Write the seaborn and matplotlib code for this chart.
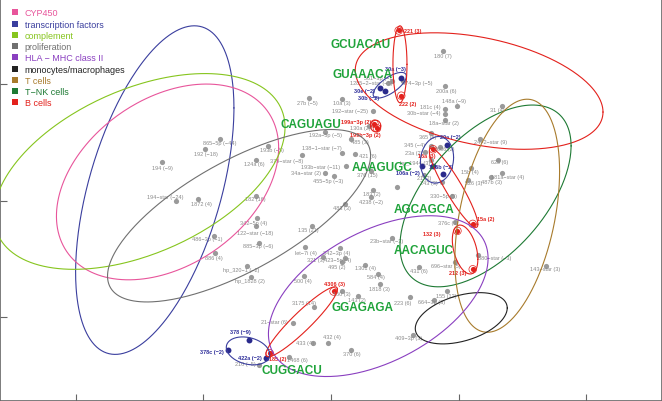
import numpy as np
import pandas as pd
import matplotlib
matplotlib.use("Agg")
import matplotlib.pyplot as plt
from matplotlib.lines import Line2D
import seaborn as sns

# miRNAs without a cell-type call (gray)
gray_names = ["27b (−5)", "10a (3)", "192−star (−25)", "130a (2)", "192a−5p (−5)", "865−5p (−44)",
              "192 (−18)", "193b (−5)", "138−1−star (−7)", "124a (6)", "379−star (−8)", "193b−star (−11)",
              "34a−star (2)", "455−5p (−3)", "194 (−9)", "194−star (−24)", "1872 (4)", "182 (16)",
              "342−5p (4)", "122−star (−18)", "486−3p (−1)", "885−3p (−6)", "886 (4)", "hp_320−1 (−2)",
              "hp_1828 (2)", "135 (21)", "let−7i (4)", "342−3p (4)", "321 (3)", "423−5p (4)", "495 (2)",
              "500 (4)", "3175 (14)", "21−star (6)", "433 (4)", "432 (4)", "1468 (6)", "210 (−5)",
              "370 (6)", "143 (2)", "150 (3)", "1818 (3)", "584 (4)", "1301 (4)", "223 (6)", "664−3p (3)",
              "155 (12)", "409−3p (3)", "431 (6)", "696−star (5)", "880−star (−3)", "23b−star (−3)",
              "376c (3)", "4238 (−2)", "183 (2)", "483 (3)", "376 (15)", "421 (6)", "485 (3)", "345 (−4)",
              "23a (2)", "365 (6)", "24−2−star (9)", "625 (6)", "181a−star (4)", "487b (3)", "526 (3)",
              "15b (4)", "330−5p (5)", "243 (3)", "hp_1944 (3)", "2006 (2)", "21 (2)", "180 (7)",
              "200a (6)", "148a (−9)", "181c (4)", "30b−star (−4)", "18a−star (2)", "31 (4)",
              "561−3p (−1)", "1285−2−star (−5)", "374−3p (−5)", "143−star (3)", ""]
gray_x = [-0.17, 0.09, 0.33, 0.30, -0.05, -0.87, -0.99, -0.49, 0.09, -0.59, -0.23, 0.12,
          -0.05, 0.02, -1.32, -1.21, -1.04, -0.59, -0.58, -0.59, -0.92, -0.56, -0.91, -0.66,
          -0.63, -0.15, -0.20, 0.07, -0.06, 0.11, 0.09, -0.21, -0.13, -0.30, -0.14, -0.02,
          -0.33, -0.56, 0.16, 0.21, 0.09, 0.38, 0.37, 0.27, 0.62, 0.81, 0.91, 0.64, 0.69,
          0.97, 1.15, 0.48, 0.97, 0.31, 0.33, 0.11, 0.31, 0.19, 0.16, 0.78, 0.74, 0.78, 1.17,
          1.31, 1.34, 1.25, 1.07, 1.10, 0.95, 0.87, 0.78, 0.85, 0.73, 0.88, 0.89, 0.99, 0.89,
          0.89, 0.89, 1.34, 0.48, 0.45, 0.56, 1.68, 0.52]
gray_y = [0.88, 0.87, 0.77, 0.64, 0.59, 0.53, 0.44, 0.47, 0.41, 0.35, 0.39, 0.30,
          0.24, 0.21, 0.33, 0.00, 0.01, 0.04, -0.15, -0.22, -0.30, -0.36, -0.45, -0.56,
          -0.66, -0.22, -0.40, -0.41, -0.48, -0.49, -0.53, -0.65, -0.91, -1.05, -1.22, -1.22,
          -1.34, -1.41, -1.28, -0.82, -0.78, -0.72, -0.63, -0.55, -0.83, -0.85, -0.78, -1.15, -0.57,
          -0.53, -0.47, -0.32, -0.18, 0.03, 0.09, -0.03, 0.25, 0.40, 0.53, 0.47, 0.42, 0.58, 0.53,
          0.35, 0.24, 0.20, 0.18, 0.28, 0.04, 0.16, 0.35, 0.46, 0.22, 1.28, 0.98, 0.81, 0.79,
          0.74, 0.69, 0.81, 1.03, 1.01, 1.03, -0.56, 0.12]
# label nudges (pixels, right / down)
gray_nudge = [(-2, 4), (-1, 3), (-23, 0), (-9, 1), (1, 3), (0, 4), (1, 4), (4, 4), (-21, -5), (-1, 4),
              (-15, 5), (-26, 1), (-19, 0), (-5, 4), (0, 5), (-11, -4), (3, 4), (0, 3), (-3, 4), (-1, 6),
              (-6, 3), (-1, 3), (-1, 4), (-6, 4), (-1, 3), (-4, 3), (0, 5), (-3, 4), (-8, 3), (-7, 2),
              (-6, 4), (-1, 4), (-10, -4), (-18, -1), (-8, 0), (3, -6), (9, 3), (-14, -1), (0, 4), (-1, 3),
              (-1, 2), (0, 4), (-2, 3), (0, 3), (-7, 5), (-3, 2), (-1, 4), (-4, 3), (0, 4), (-9, 3),
              (17, 2), (-6, 3), (-7, 1), (0, 4), (-1, 3), (-3, 3), (-3, 3), (13, 2), (8, 3), (-16, -1),
              (-12, 1), (-3, 3), (10, 3), (1, 2), (6, 4), (1, 4), (6, 3), (-2, 4), (-9, 0), (-13, 1),
              (-15, 3), (5, 2), (0, 3), (-1, 4), (2, 4), (-3, -6), (-14, -2), (-21, -2), (-1, 2), (-5, 3),
              (-13, -3), (-17, 0), (15, 2), (0, 3), (0, 0)]

# transcription-factor targeting miRNAs (blue)
blue_names = ["30a (−3)", "30e (−2)", "30b (−2)", "20a (−2)", "106a (−2)", "106b (−2)", "",
              "378 (−9)", "378c (−2)", "422a (−2)"]
blue_x = [0.55, 0.38, 0.42, 0.91, 0.71, 0.80, 0.88, -0.64, -0.81, -0.51]
blue_y = [1.05, 0.97, 0.94, 0.48, 0.30, 0.30, 0.23, -1.20, -1.28, -1.35]
blue_nudge = [(-6, -10), (-15, 3), (-16, 6), (3, -8), (-14, 7), (8, 1), (0, 0), (-9, -9), (-16, 2), (-16, 0)]

# B-cell miRNAs (red)
red_names = ["221 (3)", "222 (2)", "199a−3p (2)", "199b−3p (2)", "16a (3)", "15a (2)", "132 (3)",
             "212 (3)", "4306 (3)", "185 (2)"]
red_x = [0.53, 0.55, 0.34, 0.36, 0.80, 1.11, 0.99, 1.11, 0.02, -0.48]
red_y = [1.46, 0.90, 0.66, 0.62, 0.44, -0.20, -0.26, -0.59, -0.78, -1.31]
red_nudge = [(14, 0), (6, 8), (-18, -2), (-12, 6), (-6, 6), (13, -5), (-26, 3), (-15, 3), (1, -8), (8, 5)]

# seed motifs
motifs = ["GCUACAU", "GUAAACA", "CAGUAGU", "AAAGUGC", "AGCAGCA", "AACAGUC", "GGAGAGA", "CUGGACU"]
motif_x = [0.23, 0.25, -0.16, 0.40, 0.73, 0.73, 0.25, -0.31]
motif_y = [1.34, 1.09, 0.66, 0.29, -0.07, -0.42, -0.91, -1.45]

# group ellipses: centre, half-widths and correlation
ell_group = ["transcription factors", "CYP450", "complement", "proliferation", "B cells",
             "transcription factors", "B cells", "B cells", "transcription factors", "B cells",
             "B cells", "T−NK cells", "T cells", "monocytes/macrophages", "HLA − MHC class II",
             "B cells", "transcription factors"]
ell_cx = [-1.38, -1.28, -1.50, -0.72, 1.16, 0.46, 0.54, 0.35, 0.83, 0.96, 1.05, 1.21, 1.38, 1.02, 0.37, -0.23, -0.65]
ell_cy = [0.09, 0.16, 0.25, -0.13, 0.94, 0.99, 1.17, 0.64, 0.35, 0.11, -0.42, 0.04, -0.13, -1.01, -0.82, -1.04, -1.29]
ell_sx = [0.62, 0.87, 1.14, 1.03, 0.97, 0.13, 0.055, 0.04, 0.13, 0.19, 0.10, 0.67, 0.41, 0.36, 0.86, 0.28, 0.17]
ell_sy = [1.41, 0.84, 0.84, 0.74, 0.50, 0.11, 0.33, 0.05, 0.20, 0.34, 0.21, 0.78, 1.00, 0.22, 0.69, 0.30, 0.12]
ell_r = [0.50, 0.35, 0.45, 0.70, -0.36, 0.70, 0.0, 0.0, 0.1, -0.92, -0.4, 0.55, 0.38, 0.40, 0.47, 0.93, -0.25]

legend_labels = ["CYP450", "transcription factors", "complement", "proliferation", "HLA − MHC class II",
                 "monocytes/macrophages", "T cells", "T−NK cells", "B cells"]
legend_colors = ["#E8559B", "#3A3E9E", "#86C51E", "#707070", "#8A3FC0",
                 "#222222", "#A87B2C", "#1E7A34", "#E3211C"]
palette = dict(zip(legend_labels, legend_colors))

sns.set_style("white")
plt.rcParams["font.family"] = ["Liberation Sans", "DejaVu Sans"]

fig = plt.figure(figsize=(6.62, 4.02), dpi=100)
ax = fig.add_axes([0, 0, 1, 1])

gray_df = pd.DataFrame({"x": gray_x, "y": gray_y, "name": gray_names})
blue_df = pd.DataFrame({"x": blue_x, "y": blue_y, "name": blue_names})
red_df = pd.DataFrame({"x": red_x, "y": red_y, "name": red_names})

sns.scatterplot(data=gray_df, x="x", y="y", color="#9A9A9A", s=14, linewidth=0, ax=ax, zorder=2)
sns.scatterplot(data=blue_df, x="x", y="y", color="#2A2A8C", s=18, linewidth=0, ax=ax, zorder=3)
sns.scatterplot(data=red_df, x="x", y="y", color="#E3211C", s=14, linewidth=0, ax=ax, zorder=3)
ax.scatter(red_x, red_y, s=30, facecolors="none", edgecolors="#E3211C", linewidths=0.5, zorder=3)

for df, nudge, col, wt in [(gray_df, gray_nudge, "#8A8A8A", "normal"),
                           (blue_df, blue_nudge, "#2E2E9A", "bold"),
                           (red_df, red_nudge, "#E3211C", "bold")]:
    for (px, py, nm), (dx, dy) in zip(df[["x", "y", "name"]].values, nudge):
        if nm:
            ax.annotate(nm, (px, py), xytext=(dx, -dy), textcoords="offset pixels",
                        ha="center", va="center", fontsize=4, color=col, fontweight=wt, zorder=4)

for m, mx, my in zip(motifs, motif_x, motif_y):
    ax.text(mx, my, m, ha="center", va="center", fontsize=8.5, fontweight="bold",
            color="#1FA33A", zorder=5)

t = np.linspace(0, 2 * np.pi, 300)
for g, cx, cy, sx, sy, r in zip(ell_group, ell_cx, ell_cy, ell_sx, ell_sy, ell_r):
    ex = cx + sx * np.cos(t)
    ey = cy + sy * (r * np.cos(t) + np.sqrt(1 - r ** 2) * np.sin(t))
    ax.plot(ex, ey, color=palette[g], lw=0.8, zorder=4)

handles = [Line2D([], [], marker="s", linestyle="none", markersize=4.5, color=c,
                  markerfacecolor=c, markeredgewidth=0) for c in legend_colors]
ax.legend(handles, legend_labels, loc="upper left", bbox_to_anchor=(0.01, 0.99), frameon=False,
          fontsize=6.5, labelcolor="markerfacecolor", handlelength=0.6, handletextpad=0.8,
          labelspacing=0.25, borderaxespad=0.2)

ax.set_xlim(-2.592, 2.592)
ax.set_ylim(-1.72, 1.73)
ax.set_xticks([-2, -1, 0, 1, 2])
ax.set_yticks([-1, 0, 1])
ax.set_xticklabels([])
ax.set_yticklabels([])
ax.set_xlabel("")
ax.set_ylabel("")
ax.tick_params(direction="in", length=5, width=0.8, color="#666666", left=True, bottom=True)
for sp in ax.spines.values():
    sp.set_color("#666666")
    sp.set_linewidth(1.2)

fig.savefig("out.png", dpi=100)
